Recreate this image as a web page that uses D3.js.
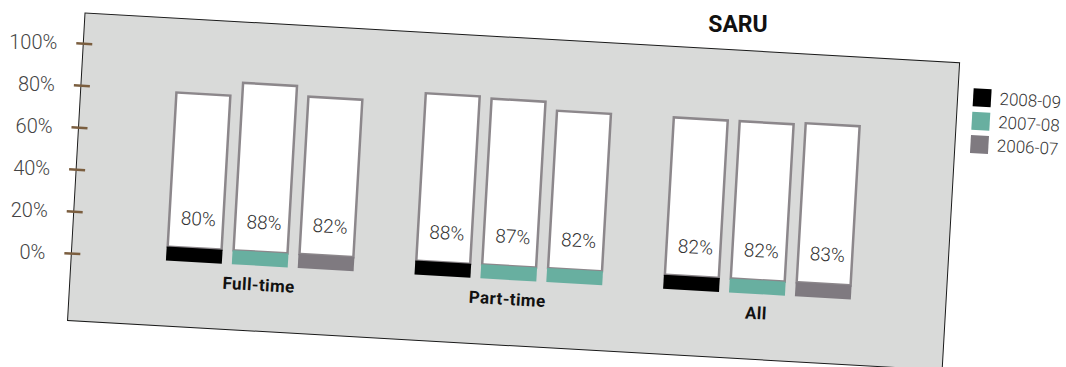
<!DOCTYPE html>
<html>
<head>
<meta charset="utf-8">
<script src="https://cdn.jsdelivr.net/npm/d3@7"></script>
<style>
  body { margin: 0; background: #fff; }
  svg { display: block; font-family: Roboto, 'Open Sans', sans-serif; }
</style>
</head>
<body>
<script>
// data
const groups = ['Full-time', 'Part-time', 'All'];
const years = ['2008-09', '2007-08', '2006-07'];
const fullTime = [80, 88, 82];
const partTime = [88, 87, 82];
const allModes = [82, 82, 83];
// legend key used for each bar's base strip (the source reuses 2007-08 once)
const fullTimeKeys = ['2008-09', '2007-08', '2006-07'];
const partTimeKeys = ['2008-09', '2007-08', '2007-08'];
const allModesKeys = ['2008-09', '2007-08', '2006-07'];
const yTicks = [0, 20, 40, 60, 80, 100];
const colors = ['#000000', '#68afa0', '#7f7a80'];

const color = d3.scaleOrdinal().domain(years).range(colors);

const table = groups.map((g, i) => ({
  group: g,
  values: [fullTime, partTime, allModes][i].map((v, j) => ({
    year: years[j],
    key: [fullTimeKeys, partTimeKeys, allModesKeys][i][j],
    value: v,
  })),
}));

const W = 1066;
const H = 367;
const angle = 3.25; // the whole panel is tilted
const panelW = 876;
const panelH = 308;
const baseY = 242.5;
const bandH = 14;

const svg = d3.select('body').append('svg')
  .attr('width', W)
  .attr('height', H);

svg.append('text')
  .attr('x', 738)
  .attr('y', 32)
  .attr('text-anchor', 'middle')
  .style('font-size', '23px')
  .style('font-weight', 700)
  .style('fill', '#111')
  .text('SARU');

const g = svg.append('g')
  .attr('transform', `translate(85,13) rotate(${angle})`);

g.append('rect')
  .attr('width', panelW)
  .attr('height', panelH)
  .style('fill', '#d9dad9')
  .style('stroke', '#1a1a1a')
  .style('stroke-width', 1);

// axis scale and a separate one for the bar tops
const y = d3.scaleLinear().domain([0, 100]).range([240.5, 30.2]);
const barY = d3.scaleLinear().domain([0, 100]).range([208.3, 40.7]);

const x0 = d3.scaleBand()
  .domain(groups)
  .range([64.3, 811.3])
  .paddingInner(0.253)
  .paddingOuter(0.1265);

const x1 = d3.scaleBand()
  .domain(years)
  .range([0, x0.bandwidth()])
  .paddingInner(0.182);

const yAxis = d3.axisLeft(y)
  .tickValues(yTicks)
  .tickSize(16)
  .tickPadding(19)
  .tickFormat(d => `${d}%`);

const yAx = g.append('g')
  .attr('transform', 'translate(9,0)')
  .call(yAxis);

yAx.select('.domain').remove();
yAx.selectAll('.tick line')
  .style('stroke', '#7b5e3f')
  .style('stroke-width', 2.5);
yAx.selectAll('.tick text')
  .attr('transform', `rotate(${-angle},-35,0)`)
  .style('font-family', 'Roboto, sans-serif')
  .style('font-size', '20px')
  .style('font-weight', 300)
  .style('fill', '#444');

const groupG = g.selectAll('.grp')
  .data(table)
  .join('g')
  .attr('class', 'grp')
  .attr('transform', d => `translate(${x0(d.group)},0)`);

const bw = x1.bandwidth();
const bandTop = baseY - bandH;

groupG.selectAll('.bar')
  .data(d => d.values)
  .join('rect')
  .attr('class', 'bar')
  .attr('x', d => x1(d.year))
  .attr('y', d => barY(d.value))
  .attr('width', bw)
  .attr('height', d => bandTop - barY(d.value))
  .style('fill', '#fff')
  .style('stroke', '#8c878b')
  .style('stroke-width', 2.5);

groupG.selectAll('.band')
  .data(d => d.values)
  .join('rect')
  .attr('class', 'band')
  .attr('x', d => x1(d.year) - 1)
  .attr('y', bandTop)
  .attr('width', bw + 2)
  .attr('height', bandH)
  .style('fill', d => color(d.key));

groupG.selectAll('.val')
  .data(d => d.values)
  .join('text')
  .attr('class', 'val')
  .attr('x', d => x1(d.year) + bw / 2 + 2)
  .attr('y', 199)
  .attr('dy', '0.35em')
  .attr('text-anchor', 'middle')
  .style('font-size', '19px')
  .style('font-weight', 300)
  .style('fill', '#333')
  .text(d => `${d.value}%`);

groupG.append('text')
  .attr('x', x0.bandwidth() / 2)
  .attr('y', 267.5)
  .attr('text-anchor', 'middle')
  .style('font-size', '17px')
  .style('font-weight', 700)
  .style('letter-spacing', '0.4px')
  .style('fill', '#111')
  .text(d => d.group);

// legend
const legend = g.append('g')
  .attr('transform', 'translate(891.5,24.8)');

const item = legend.selectAll('.item')
  .data(years)
  .join('g')
  .attr('class', 'item')
  .attr('transform', (d, i) => `translate(0,${i * 23.4})`);

item.append('rect')
  .attr('width', 18)
  .attr('height', 18)
  .style('fill', d => color(d));

item.append('text')
  .attr('x', 26.5)
  .attr('y', 9)
  .attr('dy', '0.35em')
  .style('font-size', '17px')
  .style('font-weight', 300)
  .style('fill', '#333')
  .text(d => d);
</script>
</body>
</html>
